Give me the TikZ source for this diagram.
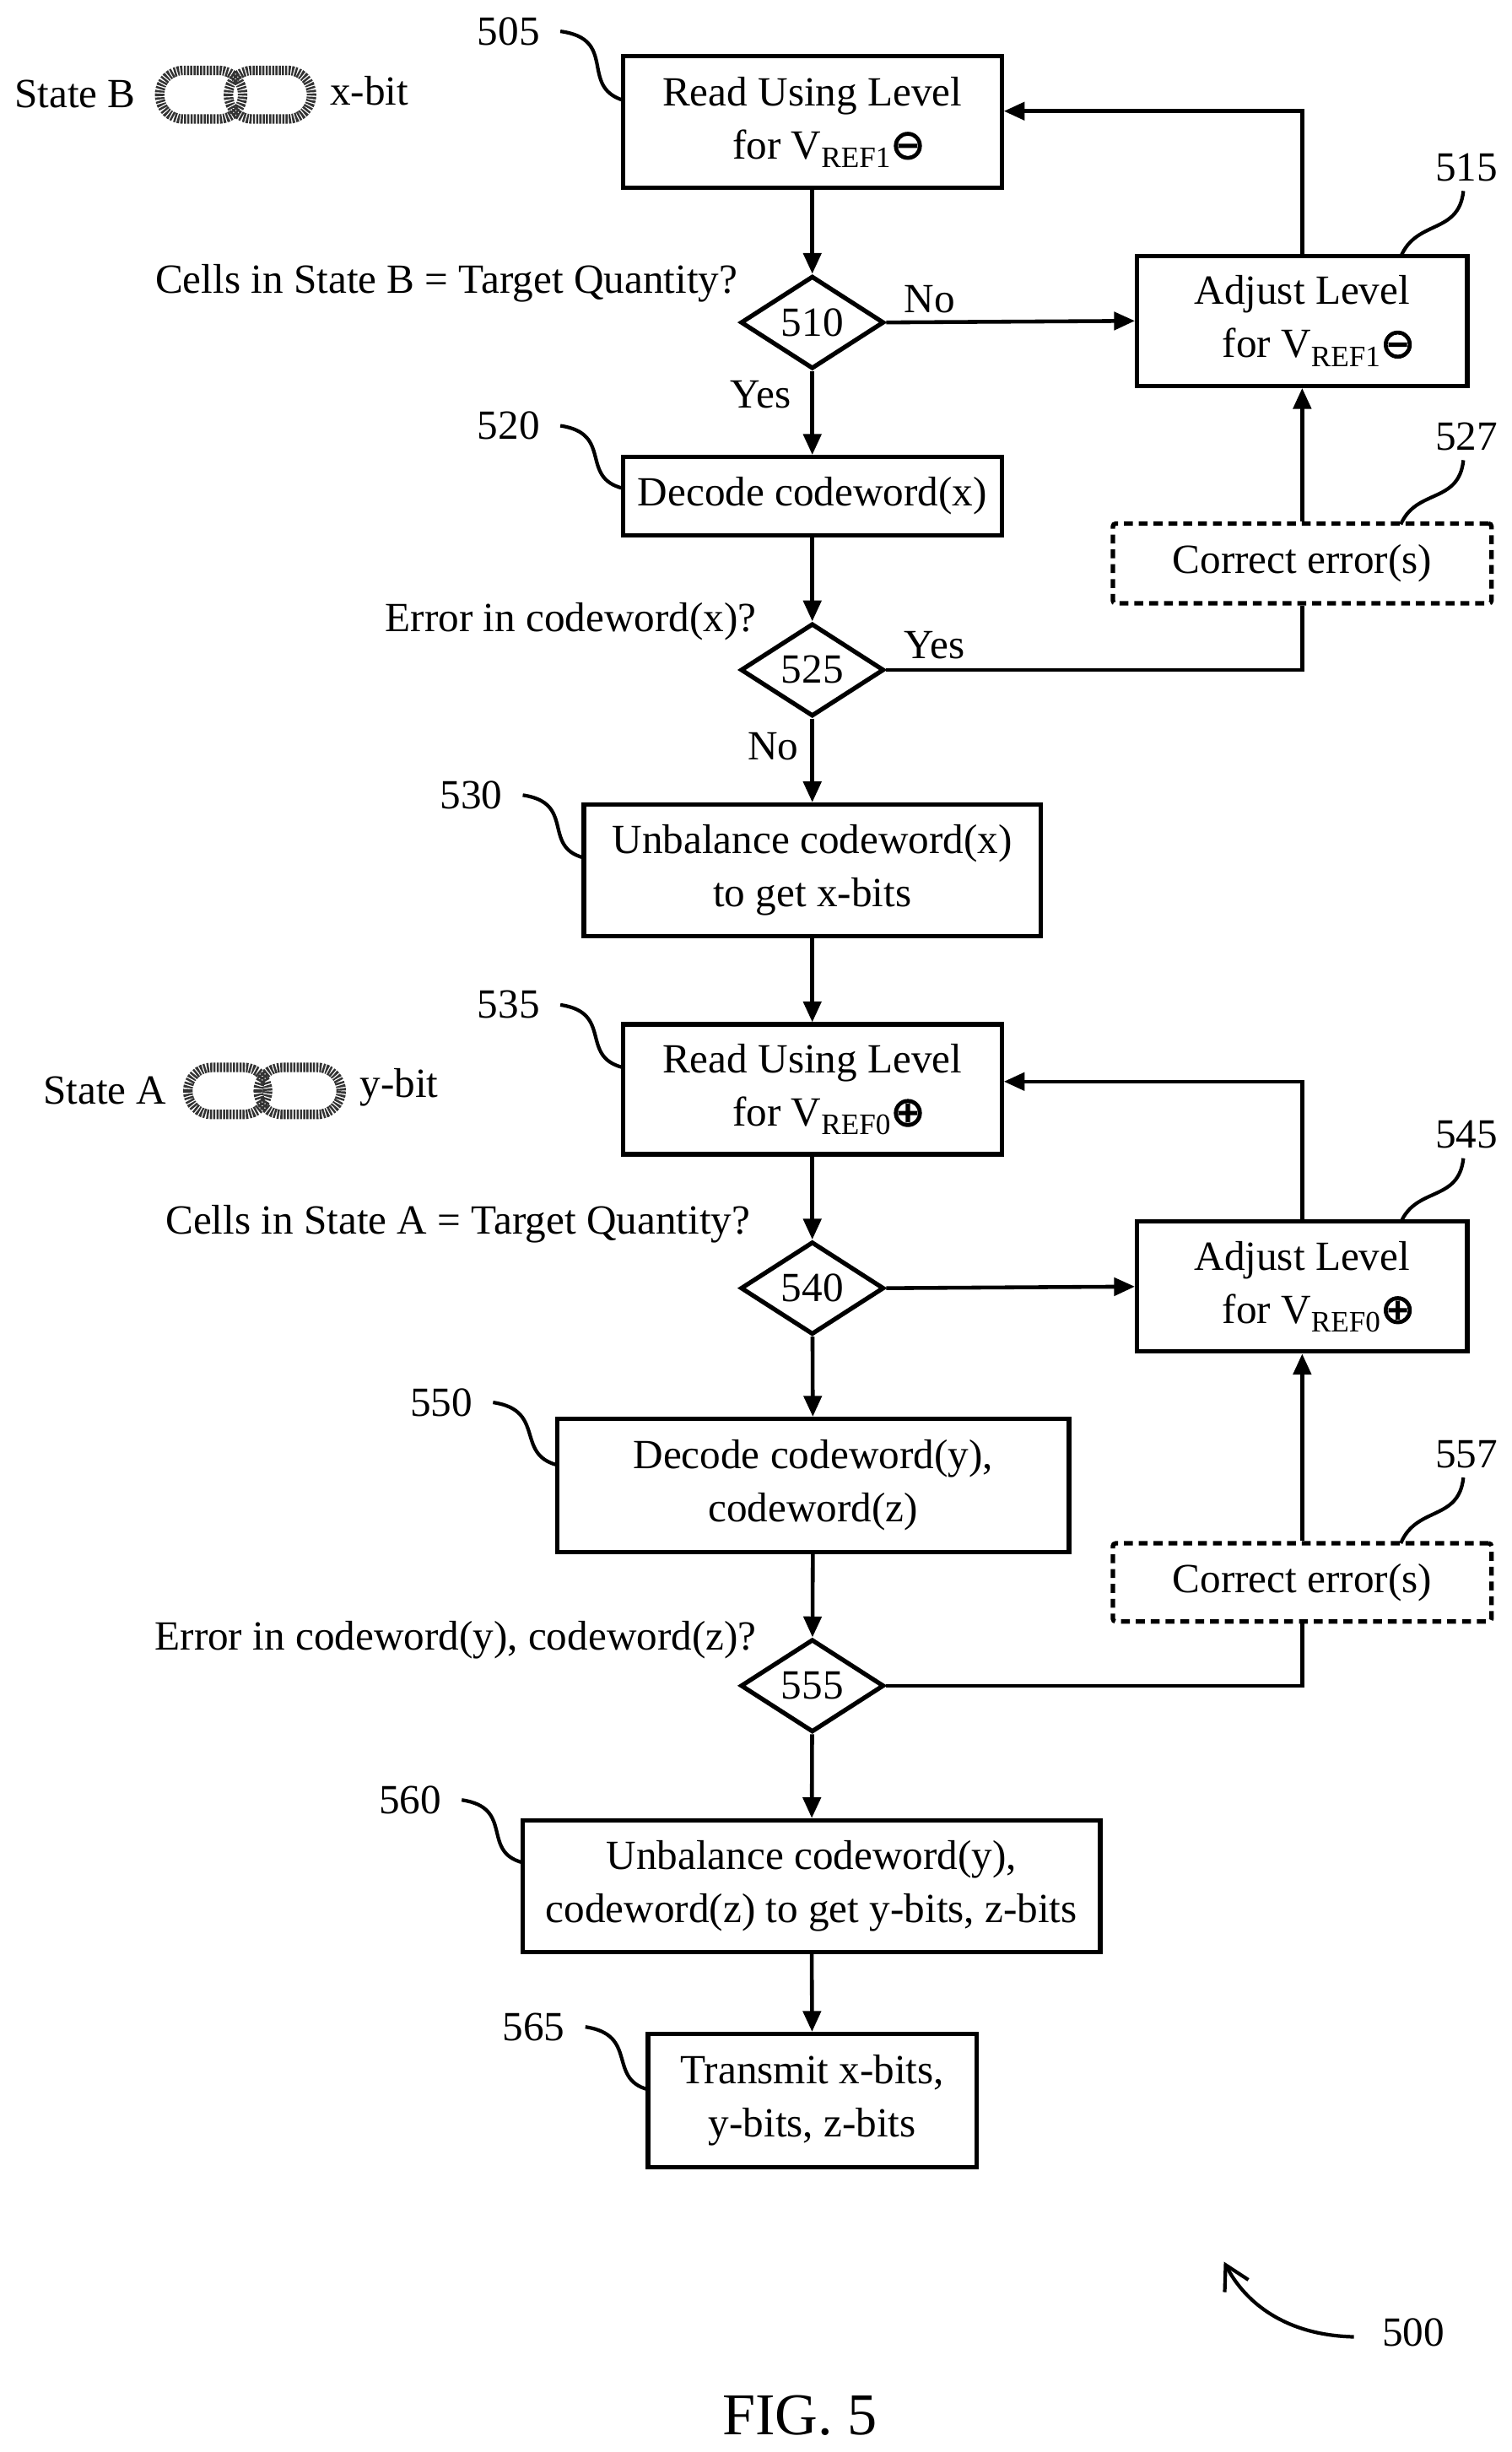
\documentclass[tikz,border=0pt]{standalone}
\usepackage{fontspec}
\setmainfont{Liberation Serif}
\newfontfamily\dv{DejaVu Sans}[FakeBold=2]
\usetikzlibrary{shapes.geometric,arrows.meta}
\newcommand{\vref}[1]{V\raisebox{-0.45ex}{\fontsize{10}{10}\selectfont REF#1}}
\begin{document}
\begin{tikzpicture}[x=0.01855cm,y=-0.01855cm,
  every node/.style={font=\fontsize{14}{18}\selectfont},
  box/.style={draw,line width=1.5pt,minimum height=0pt,inner sep=0pt,align=center},
  dbox/.style={draw,line width=1.5pt,dash pattern=on 3pt off 2pt,rounded corners=1pt,inner sep=0pt,align=center},
  dia/.style={draw,diamond,line width=1.5pt,aspect=1.5,inner sep=0pt,minimum width=1.7cm,minimum height=1.1cm},
  ln/.style={line width=1.3pt},
  ar/.style={ln,-{Triangle[length=7pt,width=6pt]}},
  lead/.style={line width=1.2pt},
  link/.style={line width=3.2pt,draw=black!80,dash pattern=on 0.7pt off 0.4pt,rounded corners=2.8mm}]
\useasboundingbox (0,0) rectangle (966,1566.6);
% boxes
\node[box,minimum width=242*0.01855cm,minimum height=84*0.01855cm] (b505) at (519,78) {Read Using Level\\ \hspace*{0.8em}for \vref{1}{\dv ⊖}};
\node[box,minimum width=211*0.01855cm,minimum height=83*0.01855cm] (b515) at (832,205) {Adjust Level\\ \hspace*{0.8em}for \vref{1}{\dv ⊖}};
\node[dia] (d510) at (519,206) {510};
\node[box,minimum width=242*0.01855cm,minimum height=50*0.01855cm] (b520) at (519,317) {Decode codeword(x)};
\node[dbox,minimum width=242*0.01855cm,minimum height=51*0.01855cm] (b527) at (832,360) {Correct error(s)};
\node[dia] (d525) at (519,428) {525};
\node[box,minimum width=292*0.01855cm,minimum height=84*0.01855cm] (b530) at (519,556) {Unbalance codeword(x)\\to get x-bits};
\node[box,minimum width=242*0.01855cm,minimum height=83*0.01855cm] (b535) at (519,696) {Read Using Level\\ \hspace*{0.8em}for \vref{0}{\dv ⊕}};
\node[box,minimum width=211*0.01855cm,minimum height=83*0.01855cm] (b545) at (832,822) {Adjust Level\\ \hspace*{0.8em}for \vref{0}{\dv ⊕}};
\node[dia] (d540) at (519,823) {540};
\node[box,minimum width=327*0.01855cm,minimum height=85*0.01855cm] (b550) at (519.5,949) {Decode codeword(y),\\codeword(z)};
\node[dbox,minimum width=242*0.01855cm,minimum height=50*0.01855cm] (b557) at (832,1011) {Correct error(s)};
\node[dia] (d555) at (519,1077) {555};
\node[box,minimum width=369*0.01855cm,minimum height=84*0.01855cm] (b560) at (518.5,1205) {Unbalance codeword(y),\\codeword(z) to get y-bits, z-bits};
\node[box,minimum width=210*0.01855cm,minimum height=85*0.01855cm] (b565) at (519,1342) {Transmit x-bits,\\y-bits, z-bits};
% connectors
\draw[ar] (b505) -- (d510);
\draw[ar] (d510) -- (b520);
\draw[ar] (b520) -- (d525);
\draw[ar] (d525) -- (b530);
\draw[ar] (b530) -- (b535);
\draw[ar] (b535) -- (d540);
\draw[ar] (d540) -- (b550);
\draw[ar] (b550) -- (d555);
\draw[ar] (d555) -- (b560);
\draw[ar] (b560) -- (b565);
\draw[ar] (d510.east) -- (b515.west);
\draw[ar] (b515.north) |- ([yshift=7*0.01855cm]b505.east);
\draw[ar] (b527.north) -- (b515.south);
\draw[ln] (d525.east) -| (b527.south);
\draw[ar] (d540.east) -- (b545.west);
\draw[ar] (b545.north) |- ([yshift=5*0.01855cm]b535.east);
\draw[ar] (b557.north) -- (b545.south);
\draw[ln] (d555.east) -| (b557.south);
% branch labels
\node (no1) at (594,191) {No};
\node (yes1) at (486,252) {Yes};
\node (yes2) at (597,412) {Yes};
\node (no2) at (494,477) {No};
% questions
\node[anchor=east] (q1) at (478,181) {Cells in State B = Target Quantity?};
\node[anchor=east] (q2) at (490,397) {Error in codeword(x)?};
\node[anchor=east] (q3) at (486,782) {Cells in State A = Target Quantity?};
\node[anchor=east] (q4) at (490,1048) {Error in codeword(y), codeword(z)?};
% reference numerals with leaders
\node (n505) at (325,20) {505};
\draw[lead] (358,20) .. controls (395,25) and (370,55) .. (398,64);
\node (n520) at (325,272) {520};
\draw[lead] (358,272) .. controls (392,277) and (370,305) .. (398,312);
\node (n530) at (301,508) {530};
\draw[lead] (334,508) .. controls (368,513) and (346,541) .. (373,548);
\node (n535) at (325,642) {535};
\draw[lead] (358,642) .. controls (392,647) and (370,675) .. (398,682);
\node (n550) at (282,896) {550};
\draw[lead] (315,896) .. controls (349,901) and (329,929) .. (356,936);
\node (n560) at (262,1150) {560};
\draw[lead] (295,1150) .. controls (329,1155) and (307,1183) .. (334,1190);
\node (n565) at (341,1295) {565};
\draw[lead] (374,1295) .. controls (408,1300) and (388,1328) .. (414,1335);
\node (n515) at (937,107) {515};
\draw[lead] (935,122) .. controls (932,150) and (905,140) .. (895,164);
\node (n527) at (937,279) {527};
\draw[lead] (935,294) .. controls (932,322) and (905,312) .. (895,335);
\node (n545) at (937,725) {545};
\draw[lead] (935,740) .. controls (932,768) and (905,758) .. (895,781);
\node (n557) at (937,929) {557};
\draw[lead] (935,944) .. controls (932,972) and (905,962) .. (895,986);
\node (n500) at (903,1490) {500};
\draw[lead,-{Straight Barb[length=8pt,width=9pt]}] (865,1493) .. controls (820,1492) and (795,1470) .. (782,1445);
\node[font=\fontsize{20}{24}\selectfont] (fig) at (511,1543) {FIG. 5};
% chain legends
\node (sb) at (48,60) {State B};
\draw[link] (102,45) rectangle (155,76);
\draw[link] (146,45) rectangle (199,76);
\node (xb) at (236,58) {x-bit};
\node (sa) at (67,697) {State A};
\draw[link] (120,682) rectangle (171,712);
\draw[link] (165,682) rectangle (218,712);
\node (yb) at (255,695) {y-bit};
\end{tikzpicture}
\end{document}
